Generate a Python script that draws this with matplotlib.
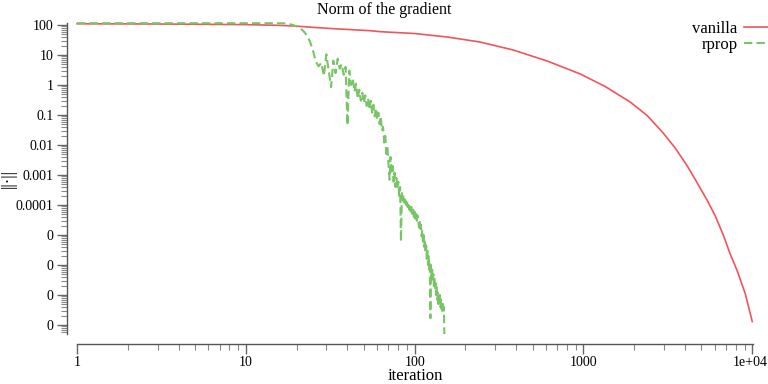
"""Gradient norm per iteration: vanilla gradient descent vs rprop (log-log)."""

import matplotlib

matplotlib.use("Agg")
import matplotlib.pyplot as plt
import matplotlib.transforms as mtransforms
import numpy as np
from matplotlib.ticker import FixedLocator, LogLocator, NullFormatter

vanilla_iter = [1, 3, 5, 10, 15, 19, 31.6, 54.5, 63, 100, 156, 244, 383, 610, 957,
                1346, 1893, 2388, 2969, 3497, 4121, 4725, 5414, 6039, 6735, 7406,
                8151, 9100, 10000]
vanilla_norm = [110, 108, 106, 103, 98, 93, 76.5, 64.6, 59.8, 52, 39.8, 27.1, 14.7, 6.3, 2.33,
                0.89, 0.27, 0.095, 0.025, 7.9e-3, 2.0e-3, 5.4e-4, 1.41e-4, 4.3e-5, 1.0e-5, 2.3e-6,
                6.3e-7, 1.08e-7, 1.3e-8]

# rprop: one value per iteration, 1..150
rprop_norm = [
    115, 115, 115, 115, 115, 115, 115, 115, 115, 115,
    115, 115, 115, 115, 115, 114, 113, 108, 100, 90,
    78, 62, 45, 28, 14, 6.0, 4.2, 5.5, 2.0, 10.5,
    3.0, 0.85, 6.5, 2.5, 7.5, 3.5, 5.0, 2.2, 4.0, 0.045,
    3.0, 1.0, 1.6, 0.6, 1.1, 0.35, 0.7, 0.3, 0.55, 0.25,
    0.45, 0.2, 0.35, 0.15, 0.3, 0.12, 0.22, 0.09, 0.17, 0.07,
    0.12, 0.05, 0.09, 0.03, 0.04, 0.012, 0.02, 0.005, 0.008, 0.0025,
    0.0007, 0.004, 0.0012, 0.002, 0.0006, 0.0012, 0.0004, 0.0008, 0.00035, 0.0006,
    0.0002, 0.0004, 6e-6, 2.5e-4, 1.4e-4, 2.2e-4, 1.2e-4, 1.8e-4, 1.0e-4, 1.5e-4,
    8.5e-5, 1.2e-4, 7e-5, 1.0e-4, 6e-5, 8.5e-5, 5e-5, 7e-5, 4e-5, 6e-5,
    3.5e-5, 5e-5, 3e-5, 4.5e-5, 3.5e-5, 1.8e-5, 3.0e-5, 1.4e-5, 2.2e-5, 9e-6,
    1.5e-5, 6e-6, 1.0e-5, 4e-6, 7e-6, 2.5e-6, 4.5e-6, 1.6e-6, 3e-6, 1.0e-6,
    2e-6, 7e-7, 1.3e-6, 1.7e-8, 1.0e-6, 4e-7, 7e-7, 3e-7, 5e-7, 2e-7,
    3.5e-7, 1.5e-7, 2.5e-7, 1.0e-7, 1.8e-7, 7e-8, 1.2e-7, 5e-8, 9e-8, 6e-8,
    1.0e-7, 4e-8, 7e-8, 3.5e-8, 6e-8, 3e-8, 5e-8, 2.5e-8, 4e-8, 5e-9,
]
rprop_iter = np.arange(1, len(rprop_norm) + 1)

y_ticks = [1e2, 1e1, 1, 1e-1, 1e-2, 1e-3, 1e-4, 1e-5, 1e-6, 1e-7, 1e-8]
y_tick_labels = ["100", "10", "1", "0.1", "0.01", "0.001", "0.0001", "0", "0", "0", "0"]
x_ticks = [1, 10, 100, 1000, 10000]
x_tick_labels = ["1", "10", "100", "1000", "1e+04"]

plt.rcParams["font.family"] = ["Liberation Serif", "DejaVu Serif"]

fig = plt.figure(figsize=(7.68, 3.84), dpi=100)
W, H = 768, 384
left, right, top, bottom = 77, 753, 23.2, 334
ax = fig.add_axes([left / W, 1 - bottom / H, (right - left) / W, (bottom - top) / H])

ax.plot(vanilla_iter, vanilla_norm, color="#f2545b", linewidth=1.2, label="vanilla", clip_on=False)
ax.plot(rprop_iter, rprop_norm, color="#78c566", linewidth=1.5, linestyle=(0, (4, 2)),
        label="rprop", clip_on=False)

ax.set_xscale("log")
ax.set_yscale("log")
ax.set_xlim(1, 10100)
ax.set_ylim(10 ** -8.3, 10 ** 2.06)

for side in ("top", "right"):
    ax.spines[side].set_visible(False)
ax.spines["left"].set_position(("outward", 7))
ax.spines["bottom"].set_position(("outward", 7))
for side in ("left", "bottom"):
    ax.spines[side].set_color("#555555")
    ax.spines[side].set_linewidth(1.0)

ax.yaxis.set_major_locator(FixedLocator(y_ticks))
ax.set_yticklabels(y_tick_labels)
ax.yaxis.set_minor_locator(LogLocator(base=10, subs=np.arange(2, 10), numticks=30))
ax.yaxis.set_minor_formatter(NullFormatter())
ax.xaxis.set_major_locator(FixedLocator(x_ticks))
ax.set_xticklabels(x_tick_labels)
ax.xaxis.set_minor_locator(LogLocator(base=10, subs=np.arange(2, 10), numticks=30))
ax.xaxis.set_minor_formatter(NullFormatter())

ax.tick_params(which="major", direction="out", length=7, width=1.0, color="#666666",
               labelsize=10)
ax.tick_params(axis="x", which="major", pad=1.5)
ax.tick_params(axis="y", which="major", pad=3)
ax.tick_params(which="minor", direction="out", length=4, width=0.8, color="#888888")

# keep the last x tick label inside the canvas
last_label = ax.get_xticklabels()[-1]
last_label.set_transform(last_label.get_transform()
                         + mtransforms.ScaledTranslation(-2.5 / 100, 0, fig.dpi_scale_trans))

ax.set_xlabel("iteration", fontsize=12, labelpad=-0.5)
ax.set_ylabel("||·||", fontsize=12)
ax.yaxis.set_label_coords(-0.089, 0.5)
fig.suptitle("Norm of the gradient", fontsize=11.5, x=0.5, y=0.995, va="top")

ax.legend(loc="upper left", bbox_to_anchor=(0.9006, 1.03), frameon=False, markerfirst=False,
          fontsize=12, handlelength=2.6, handletextpad=0.4, labelspacing=0.0,
          borderaxespad=0)

fig.savefig("out.png", dpi=100)
